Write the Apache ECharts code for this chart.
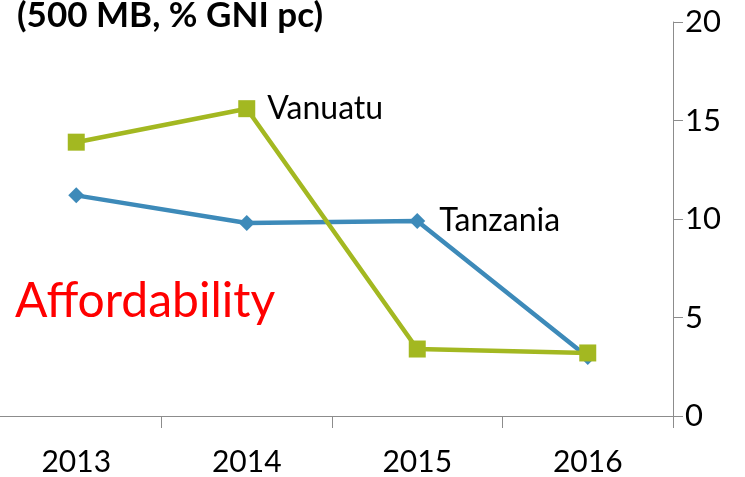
<!DOCTYPE html>
<html><head><meta charset="utf-8">
<script src="https://cdn.jsdelivr.net/npm/echarts@6/dist/echarts.min.js"></script>
<style>html,body{margin:0;padding:0;background:#fff;overflow:hidden}#c{position:absolute;left:-9px;top:0;width:754px;height:477px}</style>
</head><body><div id="c"></div>
<script>
const categories = ['2013', '2014', '2015', '2016'];
const tanzania = [11.2, 9.8, 9.9, 3.0];
const vanuatu = [13.9, 15.6, 3.4, 3.2];
const yTicks = [0, 5, 10, 15, 20];
const FONT = 'Lato, "Open Sans", sans-serif';

const chart = echarts.init(document.getElementById('c'));
function withLabel(arr, idx, name, dist) {
  return arr.map((v, i) => i === idx ? {
    value: v,
    label: { show: true, position: 'right', distance: dist, formatter: name, color: '#000', fontSize: 32, fontFamily: FONT }
  } : v);
}
chart.setOption({
  animation: false,
  title: [
    { text: '(500 MB, % GNI pc)', left: 21, top: -7, textStyle: { fontSize: 35, fontWeight: 'bold', color: '#000', fontFamily: FONT } },
    { text: 'Affordability', left: 19, top: 273, textStyle: { fontSize: 48, fontWeight: 'normal', color: '#ff0000', fontFamily: FONT } }
  ],
  grid: { left: 0, right: 72, top: 22, bottom: 60, containLabel: false },
  xAxis: {
    type: 'category', data: categories, boundaryGap: true,
    axisLine: { lineStyle: { color: '#8c8c8c', width: 1 } },
    axisTick: { show: true, interval: 0, length: 12, lineStyle: { color: '#8c8c8c' } },
    axisLabel: { color: '#000', fontSize: 30, fontFamily: FONT, margin: 31 }
  },
  yAxis: {
    type: 'value', position: 'right', min: 0, max: 20, interval: 5,
    axisLine: { show: true, lineStyle: { color: '#8c8c8c', width: 1 } },
    axisTick: { show: true, length: 10, lineStyle: { color: '#8c8c8c' } },
    splitLine: { show: false },
    axisLabel: { color: '#000', fontSize: 31, fontFamily: FONT, margin: 12,
      formatter: v => yTicks.includes(v) ? String(v) : '' }
  },
  series: [
    { name: 'Tanzania', type: 'line', data: withLabel(tanzania, 2, 'Tanzania', 14),
      symbol: 'diamond', symbolSize: 16,
      lineStyle: { color: '#3d8ab9', width: 4.5 }, itemStyle: { color: '#3d8ab9' } },
    { name: 'Vanuatu', type: 'line', data: withLabel(vanuatu, 1, 'Vanuatu', 12),
      symbol: 'rect', symbolSize: 17,
      lineStyle: { color: '#a3b821', width: 4.5 }, itemStyle: { color: '#a3b821' } }
  ]
});
</script></body></html>
